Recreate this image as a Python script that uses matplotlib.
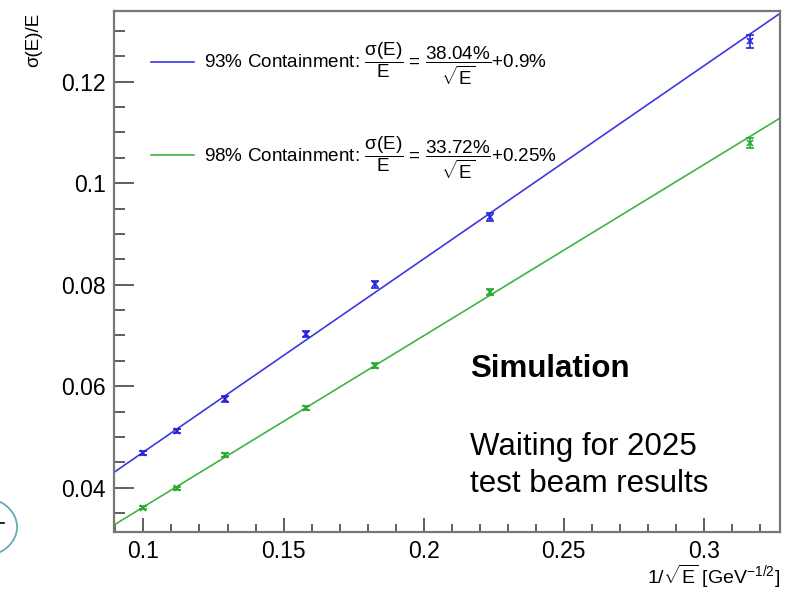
import numpy as np
import matplotlib
matplotlib.use("Agg")
import matplotlib.pyplot as plt
from matplotlib.patches import Ellipse
from matplotlib.lines import Line2D
from matplotlib.ticker import MultipleLocator, FuncFormatter

plt.rcParams['font.family'] = ['Liberation Sans', 'DejaVu Sans']
plt.rcParams['mathtext.fontset'] = 'custom'
plt.rcParams['mathtext.rm'] = 'Liberation Sans'
plt.rcParams['mathtext.it'] = 'Liberation Sans'
plt.rcParams['mathtext.bf'] = 'Liberation Sans:bold'

# beam energies -> 1/sqrt(E)
energia = np.array([100, 80, 60, 40, 30, 20, 10])
x_vals = 1 / np.sqrt(energia)

# 93% containment
res_93 = [0.0469, 0.0512, 0.0574, 0.0703, 0.0801, 0.0934, 0.1279]
err_93 = [0.0004, 0.0004, 0.0006, 0.0006, 0.0007, 0.0008, 0.0013]
# 98% containment
res_98 = [0.0361, 0.0399, 0.0464, 0.0558, 0.0640, 0.0786, 0.1079]
err_98 = [0.0003, 0.0003, 0.0004, 0.0004, 0.0005, 0.0006, 0.0010]

# fit parametros: stochastic term, constant term
fit_93 = (0.3804, 0.009)
fit_98 = (0.3372, 0.0025)

azul = '#3a3ae0'
verde = '#3fb443'

fig = plt.figure(figsize=(7.95, 5.92), dpi=100)
ax = fig.add_axes([0.1434, 0.1014, 0.8377, 0.88])

ax.errorbar(x_vals, res_93, yerr=err_93, fmt='x', color='#2424d8', ms=4, mew=1.2,
            elinewidth=1.2, capsize=3, capthick=1.2, zorder=3)
ax.errorbar(x_vals, res_98, yerr=err_98, fmt='x', color='#2aa82e', ms=4, mew=1.2,
            elinewidth=1.2, capsize=3, capthick=1.2, zorder=3)

lab_93 = r'93% Containment: $\dfrac{\sigma(E)}{E}$ = $\dfrac{38.04\%}{\sqrt{E}}$+0.9%'
lab_98 = r'98% Containment: $\dfrac{\sigma(E)}{E}$ = $\dfrac{33.72\%}{\sqrt{E}}$+0.25%'
ax.axline((0, fit_93[1]), slope=fit_93[0], color=azul, lw=1.2, label=lab_93)
ax.axline((0, fit_98[1]), slope=fit_98[0], color=verde, lw=1.2, label=lab_98)

ax.set_xlim(0.0895, 0.3271)
ax.set_ylim(0.0313, 0.1339)

ax.xaxis.set_major_locator(MultipleLocator(0.05))
ax.xaxis.set_minor_locator(MultipleLocator(0.01))
ax.yaxis.set_major_locator(MultipleLocator(0.02))
ax.yaxis.set_minor_locator(MultipleLocator(0.005))
fmt = FuncFormatter(lambda v, p: f'{v:g}')
ax.xaxis.set_major_formatter(fmt)
ax.yaxis.set_major_formatter(fmt)

ax.tick_params(axis='both', which='both', direction='in', color='#444444',
               top=False, right=False, labelsize=16.5, pad=6)
ax.tick_params(axis='y', which='major', length=14.5, width=1.2)
ax.tick_params(axis='y', which='minor', length=8, width=1.2)
ax.tick_params(axis='x', which='major', length=10, width=1.2)
ax.tick_params(axis='x', which='minor', length=5.5, width=1.2)
for lado in ax.spines.values():
    lado.set_color('#777777')
    lado.set_linewidth(1.6)

ax.set_ylabel('σ(E)/E', fontsize=13.5, loc='top')
ax.yaxis.set_label_coords(-0.108, 0.996)
ax.set_xlabel(r'1/$\sqrt{E}$ [GeV$^{-1/2}$]', fontsize=14, loc='right', labelpad=0)

ax.legend(loc='upper left', bbox_to_anchor=(0.03, 0.975), frameon=False, fontsize=13.6,
          handlelength=2.3, handletextpad=0.5, labelspacing=2.5)

ax.text(0.534, 0.313, 'Simulation', transform=ax.transAxes, fontsize=22.5,
        fontweight='bold', va='center')
ax.text(0.534, 0.1276, 'Waiting for 2025\ntest beam results', transform=ax.transAxes,
        fontsize=22.5, va='center', linespacing=1.3)

# resto de la diapositiva (esquina inferior izquierda)
fig.add_artist(Ellipse((-0.025, 0.1098), 0.093, 0.101, transform=fig.transFigure,
                       fill=False, edgecolor='#6aa7b8', lw=1.3))
fig.add_artist(Line2D([0.0, 0.005], [0.1166, 0.1166], transform=fig.transFigure,
                      color='black', lw=1.2))

fig.savefig('out.png', dpi=100)
